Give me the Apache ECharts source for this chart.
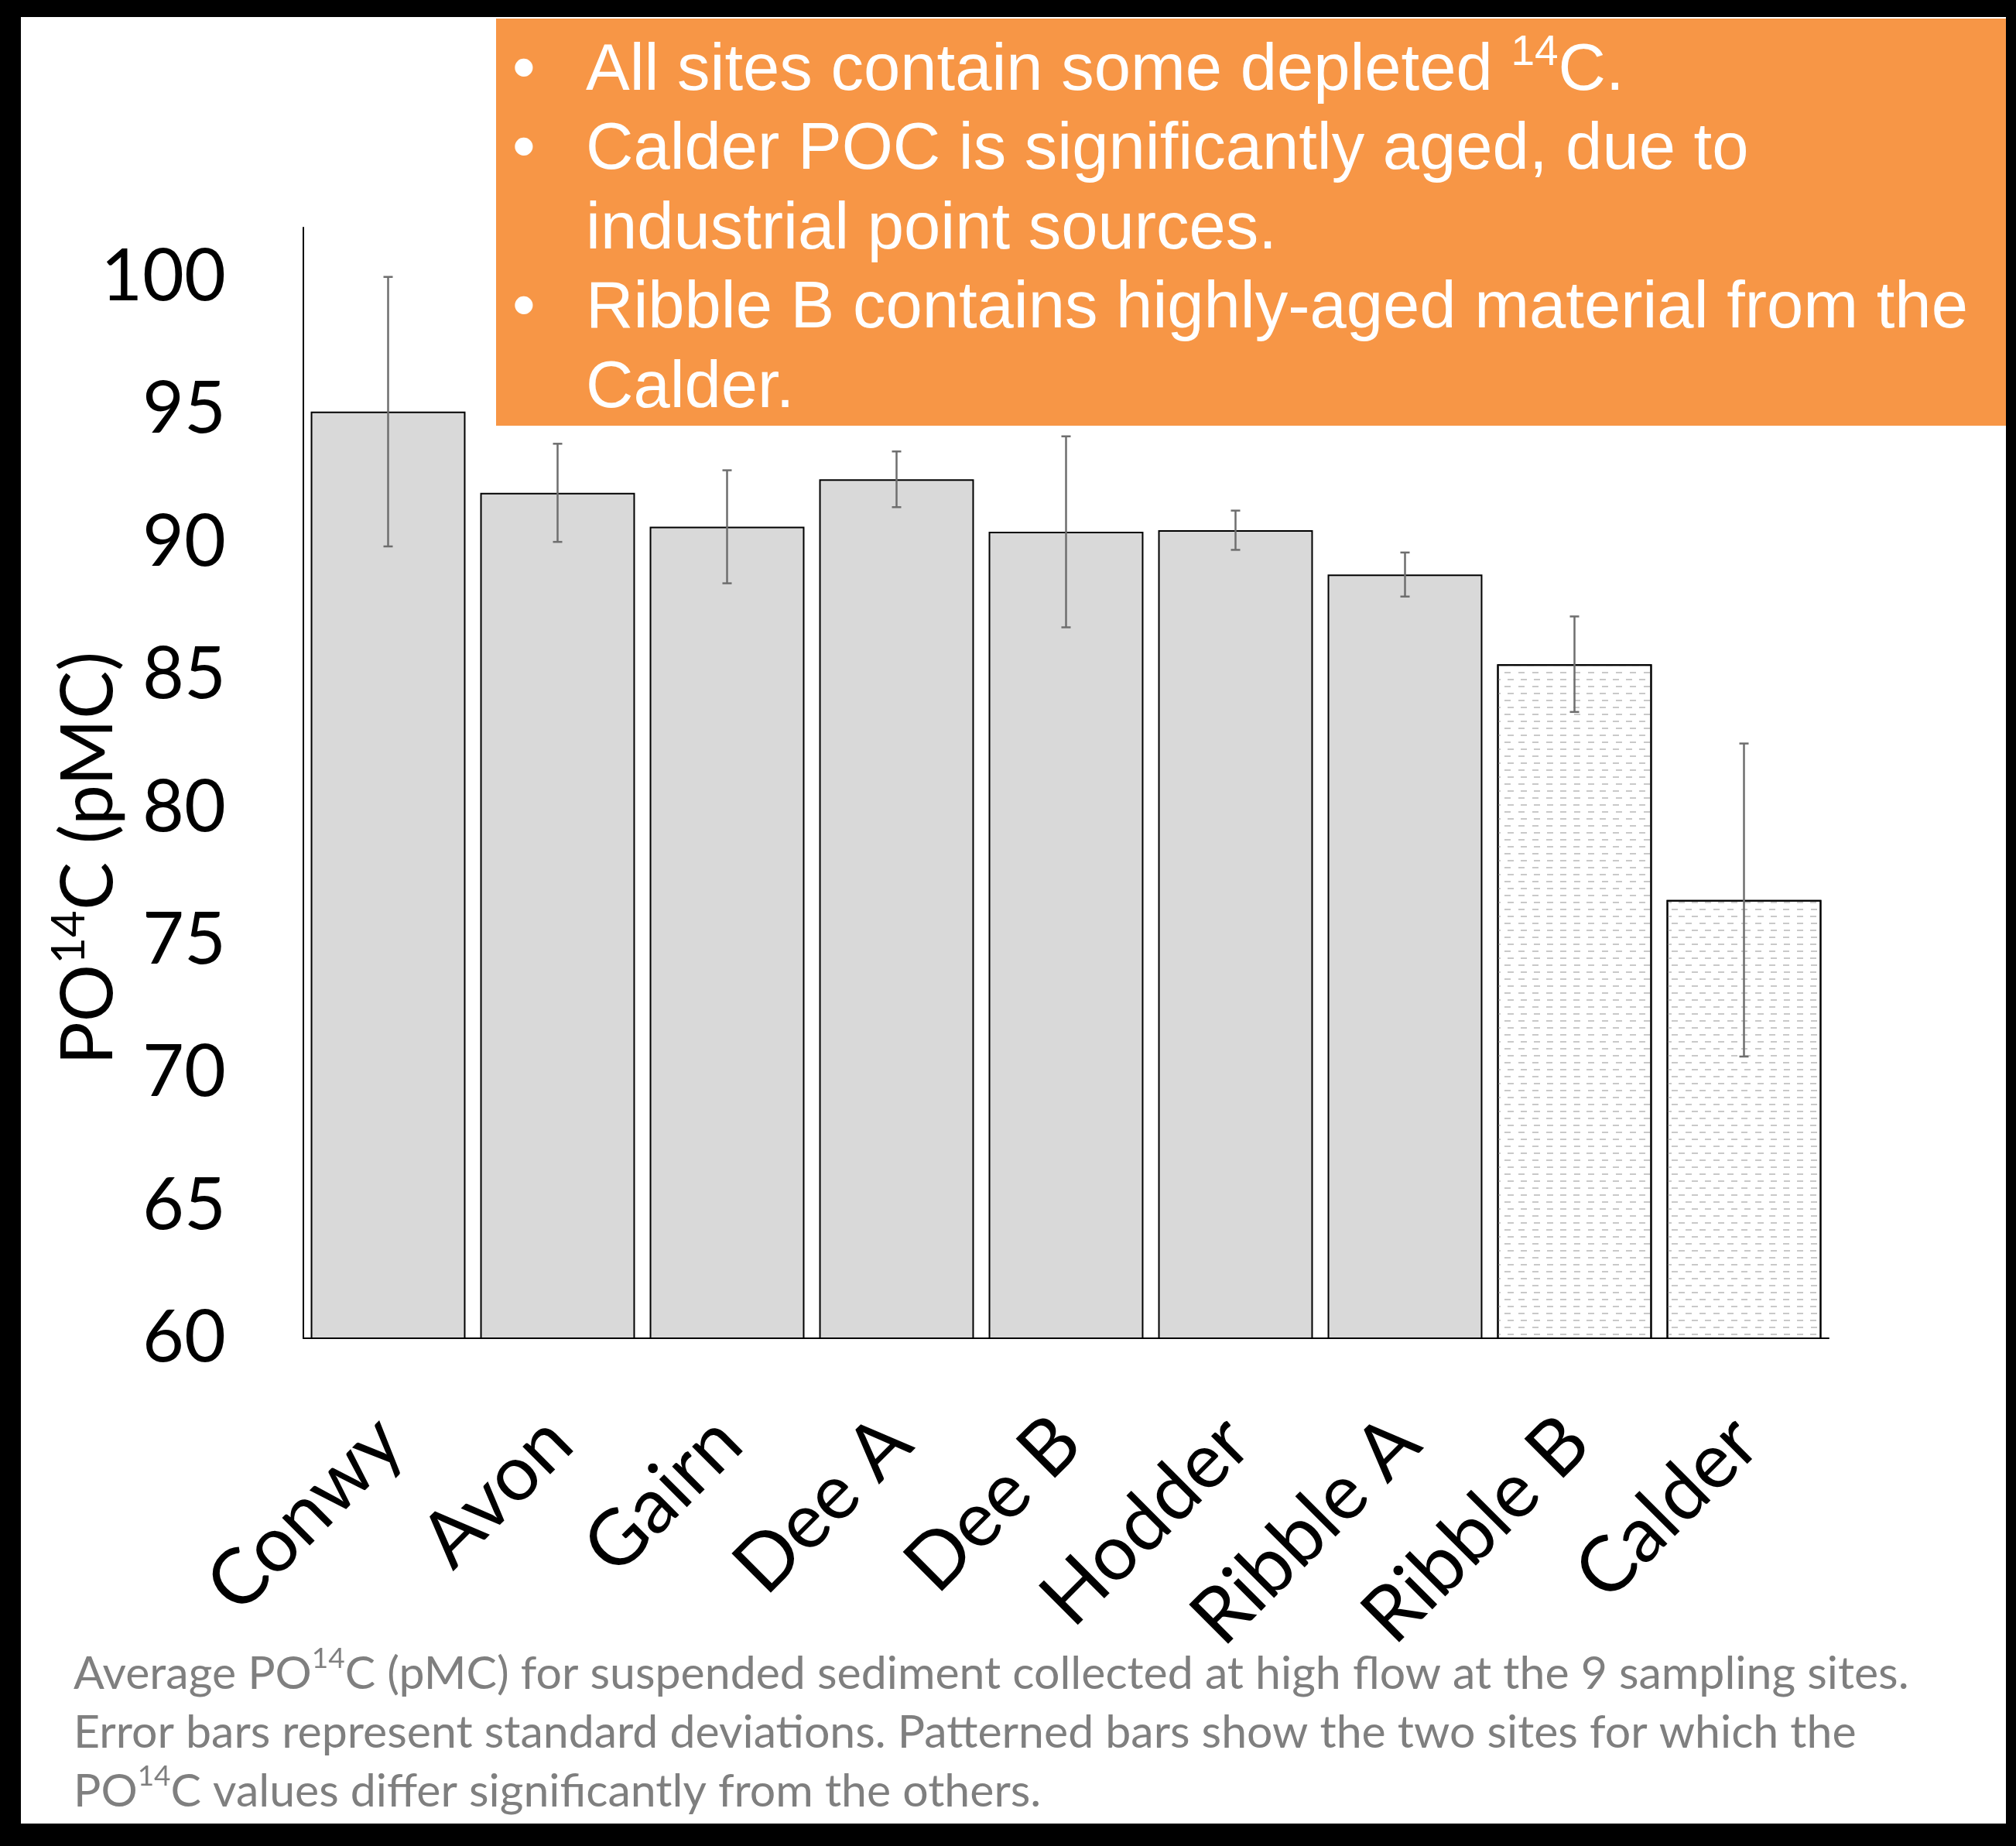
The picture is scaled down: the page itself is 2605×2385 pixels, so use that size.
<!DOCTYPE html>
<html>
<head>
<meta charset="utf-8">
<title>PO14C by site</title>
<script src="https://cdn.jsdelivr.net/npm/echarts@6/dist/echarts.min.js"></script>
<style>
  html, body { margin: 0; padding: 0; background: #000; }
  #chart { position: absolute; left: 27px; top: 22px; width: 2565px; height: 2334px; background: #fff; }
</style>
</head>
<body>
<div id="chart"></div>
<script>
"use strict";

/* ── 数据 ── */
const SITES     = ["Conwy", "Avon", "Gairn", "Dee A", "Dee B", "Hodder", "Ribble A", "Ribble B", "Calder"];
const MEANS     = [94.93, 91.87, 90.59, 92.38, 90.40, 90.46, 88.79, 85.41, 76.52];
const SDS       = [5.08, 1.85, 2.13, 1.05, 3.60, 0.74, 0.83, 1.80, 5.90];
const PATTERNED = ["Ribble B", "Calder"];
const Y_MIN  = 60;
const Y_MAX  = 101.87;
const Y_STEP = 5;

const NOTE_LINES = [
  "All sites contain some depleted ^14C.",
  "Calder POC is significantly aged, due to",
  "industrial point sources.",
  "Ribble B contains highly-aged material from the",
  "Calder."
];
const NOTE_BULLETS = [true, true, false, true, false];
const CAPTION_LINES = [
  "Average PO^14C (pMC) for suspended sediment collected at high flow at the 9 sampling sites.",
  "Error bars represent standard deviations. Patterned bars show the two sites for which the",
  "PO^14C values differ significantly from the others."
];
const Y_NAME = "PO^14C (pMC)";

const LABEL_FONT = "Lato";
const NOTE_FONT  = "'Liberation Sans', Arial";

// "^14" -> 上标
const richLine = s => "{a|" + s.replace("^14", "}{s|14}{a|") + "}";

document.addEventListener("DOMContentLoaded", () => {
  const chart = echarts.init(document.getElementById("chart"));

  const barData = MEANS.map((v, i) => {
    if (!PATTERNED.includes(SITES[i])) return v;
    return {
      value: v,
      itemStyle: {
        color: "#fff",
        decal: {
          symbol: "rect", symbolSize: 1, color: "#c9c9c9",
          dashArrayX: [[8, 9], [0, 8.5, 8, 0.5]],
          dashArrayY: [2, 6.5],
          rotation: 0
        }
      }
    };
  });
  const errData = MEANS.map((v, i) => [i, v - SDS[i], v + SDS[i]]);

  chart.setOption({
    backgroundColor: "#fff",
    animation: false,
    grid: { left: 365, right: 229, top: 272, bottom: 627, containLabel: false },
    xAxis: {
      type: "category",
      data: SITES,
      axisLine: { lineStyle: { color: "#000", width: 2 } },
      axisTick: { show: false },
      axisLabel: {
        interval: 0, rotate: 45, align: "right", verticalAlign: "top",
        margin: 50, padding: [0, 47, 0, 0],
        color: "#000", fontFamily: LABEL_FONT, fontSize: 100, lineHeight: 100
      }
    },
    yAxis: {
      type: "value",
      min: Y_MIN, max: Y_MAX, interval: Y_STEP,
      axisLine: { show: true, lineStyle: { color: "#000", width: 2 } },
      axisTick: { show: false },
      splitLine: { show: false },
      axisLabel: {
        showMaxLabel: false, margin: 100,
        color: "#000", fontFamily: LABEL_FONT, fontSize: 93
      }
    },
    series: [
      {
        type: "bar",
        data: barData,
        barCategoryGap: "8.7%",
        itemStyle: { color: "#d9d9d9", borderColor: "#000", borderWidth: 2 },
        z: 2
      },
      {
        type: "custom",
        data: errData,
        encode: { x: 0, y: [1, 2] },
        z: 5,
        renderItem: (params, api) => {
          const x  = api.value(0);
          const lo = api.coord([x, api.value(1)]);
          const hi = api.coord([x, api.value(2)]);
          const cap = 6;
          const st = { stroke: "#6e6e6e", lineWidth: 2.5 };
          return {
            type: "group",
            children: [
              { type: "line", shape: { x1: hi[0], y1: hi[1], x2: lo[0], y2: lo[1] }, style: st },
              { type: "line", shape: { x1: hi[0] - cap, y1: hi[1], x2: hi[0] + cap, y2: hi[1] }, style: st },
              { type: "line", shape: { x1: lo[0] - cap, y1: lo[1], x2: lo[0] + cap, y2: lo[1] }, style: st }
            ]
          };
        }
      }
    ],
    graphic: [
      // 橙色说明框
      { type: "rect", z: 10, shape: { x: 614, y: 2, width: 1951, height: 526 }, style: { fill: "#F79646" } },
      {
        type: "text", z: 11, x: 650, y: 19,
        style: {
          text: NOTE_BULLETS.map(b => b ? "•" : " ").join("\n"),
          fill: "#fff", font: "85px " + NOTE_FONT, lineHeight: 102.5,
          align: "center", verticalAlign: "top"
        }
      },
      {
        type: "text", z: 11, x: 730, y: 19,
        style: {
          text: NOTE_LINES.map(richLine).join("\n"),
          fill: "#fff", align: "left", verticalAlign: "top",
          rich: {
            a: { fill: "#fff", fontFamily: NOTE_FONT, fontSize: 85, lineHeight: 102.5 },
            s: { fill: "#fff", fontFamily: NOTE_FONT, fontSize: 55, lineHeight: 80, verticalAlign: "top" }
          }
        }
      },
      // y轴标题
      {
        type: "text", z: 11, x: 88, y: 1087, rotation: Math.PI / 2,
        style: {
          text: richLine(Y_NAME),
          fill: "#000", align: "center", verticalAlign: "middle",
          rich: {
            a: { fill: "#000", fontFamily: LABEL_FONT, fontSize: 93, lineHeight: 110 },
            s: { fill: "#000", fontFamily: LABEL_FONT, fontSize: 60, lineHeight: 74, verticalAlign: "top" }
          }
        }
      },
      // 图注
      {
        type: "text", z: 11, x: 68, y: 2103,
        style: {
          text: CAPTION_LINES.map(richLine).join("\n"),
          fill: "#7f7f7f", align: "left", verticalAlign: "top",
          rich: {
            a: { fill: "#7f7f7f", fontFamily: LABEL_FONT, fontSize: 59, lineHeight: 76 },
            s: { fill: "#7f7f7f", fontFamily: LABEL_FONT, fontSize: 37, lineHeight: 60, verticalAlign: "top" }
          }
        }
      }
    ]
  });
  window.addEventListener("resize", () => chart.resize());
});
</script>
</body>
</html>
